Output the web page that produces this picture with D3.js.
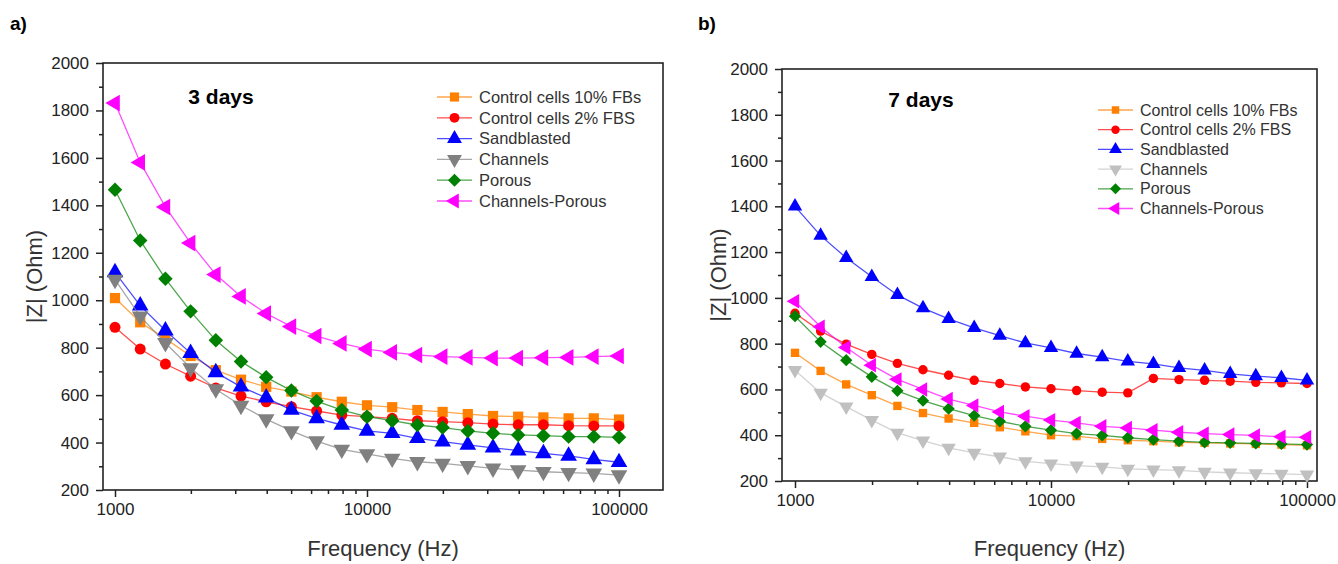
<!DOCTYPE html>
<html>
<head>
<meta charset="utf-8">
<script src="https://cdn.jsdelivr.net/npm/d3@7"></script>
<style>
  html, body { margin: 0; padding: 0; background: #fff; }
  svg { display: block; font-family: "Liberation Sans", Arial, sans-serif; }
</style>
</head>
<body>
<div id="chart"></div>
<script>
// sweep frequencies (Hz), 10 points per decade
const freqs = [1000, 1259, 1585, 1995, 2512, 3162, 3981, 5012, 6310, 7943, 10000,
  12589, 15849, 19953, 25119, 31623, 39811, 50119, 63096, 79433, 100000];

const seriesNames = ["Control cells 10% FBs", "Control cells 2% FBS", "Sandblasted",
  "Channels", "Porous", "Channels-Porous"];

// |Z| (Ohm) after 3 days
const day3Control10 = [1009, 907, 838, 765, 705, 665, 635, 615, 591, 572, 557, 549, 537, 529, 520, 512, 509, 506, 502, 502, 497];
const day3Control2 = [886, 794, 731, 680, 630, 596, 572, 551, 533, 516, 509, 502, 492, 488, 484, 478, 475, 475, 471, 470, 470];
const day3Sandblasted = [1117, 977, 872, 777, 696, 635, 589, 537, 502, 474, 449, 439, 418, 404, 390, 378, 366, 354, 344, 329, 317];
const day3Channels = [1087, 932, 820, 714, 625, 556, 499, 449, 406, 371, 352, 333, 319, 312, 302, 291, 284, 277, 273, 270, 263];
const day3Porous = [1466, 1252, 1091, 953, 831, 742, 675, 619, 575, 537, 509, 492, 474, 463, 449, 439, 432, 429, 425, 425, 422];
const day3ChannelsPorous = [1831, 1581, 1393, 1241, 1108, 1016, 944, 889, 849, 818, 794, 780, 769, 762, 759, 756, 756, 758, 759, 762, 765];

// |Z| (Ohm) after 7 days
const day7Control10 = [760, 681, 622, 575, 528, 497, 473, 454, 435, 417, 400, 396, 384, 378, 374, 369, 367, 364, 362, 359, 356];
const day7Control2 = [933, 855, 798, 753, 714, 686, 662, 640, 626, 611, 603, 595, 588, 585, 648, 643, 640, 636, 631, 629, 626];
const day7Sandblasted = [1400, 1272, 1175, 1092, 1013, 955, 908, 869, 835, 803, 782, 757, 741, 723, 712, 694, 683, 668, 658, 651, 640];
const day7Channels = [684, 585, 525, 466, 410, 376, 345, 323, 306, 286, 276, 267, 262, 253, 250, 246, 240, 236, 233, 231, 228];
const day7Porous = [920, 808, 728, 655, 594, 551, 516, 486, 461, 439, 422, 407, 399, 389, 381, 374, 369, 367, 364, 362, 359];
const day7ChannelsPorous = [985, 874, 783, 706, 644, 600, 558, 530, 502, 483, 466, 454, 439, 432, 422, 413, 407, 403, 399, 393, 391];

const yTicks = [200, 400, 600, 800, 1000, 1200, 1400, 1600, 1800, 2000];
const xTicks = [1000, 10000, 100000];

const symbols = [
  {type: d3.symbolSquare, rotate: 0},
  {type: d3.symbolCircle, rotate: 0},
  {type: d3.symbolTriangle, rotate: 0},
  {type: d3.symbolTriangle, rotate: 180},
  {type: d3.symbolSquare, rotate: 45},
  {type: d3.symbolTriangle, rotate: -90}
];

const svg = d3.select("#chart").append("svg")
    .attr("width", 1338)
    .attr("height", 564);

function drawPanel(p) {
  const x = d3.scaleLog().domain([1000, 100000]).range(p.xRange);
  const y = d3.scaleLinear().domain([200, 2000]).range([p.frame.y1, p.frame.y0]);
  const g = svg.append("g");

  // minor ticks
  const minorY = d3.range(300, 2000, 200);
  const minorX = d3.range(2000, 10000, 1000).concat(d3.range(20000, 100000, 10000));

  g.append("g")
      .attr("transform", `translate(${p.frame.x0},0)`)
      .call(d3.axisLeft(y).tickValues(minorY).tickSize(4).tickFormat(""))
      .call(a => a.select(".domain").remove());
  g.append("g")
      .attr("transform", `translate(0,${p.frame.y1})`)
      .call(d3.axisBottom(x).tickValues(minorX).tickSize(4).tickFormat(""))
      .call(a => a.select(".domain").remove());

  const yAxis = g.append("g")
      .attr("transform", `translate(${p.frame.x0},0)`)
      .call(d3.axisLeft(y).tickValues(yTicks).tickSize(7).tickPadding(7).tickFormat(d3.format("d")));
  const xAxis = g.append("g")
      .attr("transform", `translate(0,${p.frame.y1})`)
      .call(d3.axisBottom(x).tickValues(xTicks).tickSize(7).tickPadding(6).tickFormat(d3.format("d")));
  [yAxis, xAxis].forEach(a => {
    a.select(".domain").remove();
    a.attr("font-family", null).attr("font-size", null);
    a.selectAll("text").attr("font-size", 17).attr("fill", "#222");
  });
  g.selectAll(".tick line").attr("stroke", "#222").attr("stroke-width", 1.5);

  // frame
  g.append("rect")
      .attr("x", p.frame.x0).attr("y", p.frame.y0)
      .attr("width", p.frame.x1 - p.frame.x0)
      .attr("height", p.frame.y1 - p.frame.y0)
      .attr("fill", "none").attr("stroke", "#222").attr("stroke-width", 1.6);

  const line = d3.line().x((d, i) => x(freqs[i])).y(d => y(d));

  p.series.forEach((vals, k) => {
    const color = p.colors[k];
    g.append("path")
        .datum(vals)
        .attr("fill", "none")
        .attr("stroke", color)
        .attr("stroke-opacity", 0.7)
        .attr("stroke-width", 1.3)
        .attr("d", line);
    const sym = d3.symbol().type(symbols[k].type).size(p.sizes[k]);
    g.append("g").selectAll("path")
      .data(vals)
      .join("path")
        .attr("transform", (d, i) => `translate(${x(freqs[i])},${y(d)}) rotate(${symbols[k].rotate})`)
        .attr("d", sym)
        .attr("fill", color);
  });

  // legend
  const leg = g.append("g").attr("transform", `translate(${p.legend.x},${p.legend.y})`);
  seriesNames.forEach((name, k) => {
    const row = leg.append("g").attr("transform", `translate(0,${k * p.legend.step})`);
    row.append("line")
        .attr("x1", 0).attr("x2", 35)
        .attr("stroke", p.colors[k]).attr("stroke-opacity", 0.7).attr("stroke-width", 1.3);
    row.append("path")
        .attr("transform", `translate(17.5,0) rotate(${symbols[k].rotate})`)
        .attr("d", d3.symbol().type(symbols[k].type).size(p.sizes[k] * 0.8))
        .attr("fill", p.colors[k]);
    row.append("text")
        .attr("x", 42).attr("dy", "0.35em")
        .attr("font-size", p.legend.fontSize)
        .attr("fill", "#333")
        .text(name);
  });

  // annotations
  g.append("text")
      .attr("x", p.title.x).attr("y", p.title.y)
      .attr("text-anchor", "middle")
      .attr("font-size", 21).attr("font-weight", "bold")
      .text(p.title.text);

  g.append("text")
      .attr("x", p.panelLabel.x).attr("y", 30)
      .attr("font-size", 19).attr("font-weight", "bold")
      .text(p.panelLabel.text);

  g.append("text")
      .attr("x", (p.frame.x0 + p.frame.x1) / 2).attr("y", 556)
      .attr("text-anchor", "middle")
      .attr("font-size", 22).attr("fill", "#333")
      .text("Frequency (Hz)");

  g.append("text")
      .attr("transform", `translate(${p.yTitleX},${(p.frame.y0 + p.frame.y1) / 2}) rotate(-90)`)
      .attr("text-anchor", "middle")
      .attr("font-size", 22).attr("fill", "#333")
      .text("|Z| (Ohm)");
}

drawPanel({
  frame: {x0: 103, x1: 663, y0: 63, y1: 490},
  xRange: [115, 619],
  series: [day3Control10, day3Control2, day3Sandblasted, day3Channels, day3Porous, day3ChannelsPorous],
  colors: ["#ff8000", "#ff0000", "#0000ff", "#808080", "#008000", "#ff00ff"],
  sizes: [105, 95, 120, 120, 105, 120],
  legend: {x: 437, y: 97, step: 20.8, fontSize: 16.5},
  title: {x: 221, y: 104, text: "3 days"},
  panelLabel: {x: 10, text: "a)"},
  yTitleX: 42
});

drawPanel({
  frame: {x0: 782, x1: 1317, y0: 69, y1: 481},
  xRange: [795, 1307],
  series: [day7Control10, day7Control2, day7Sandblasted, day7Channels, day7Porous, day7ChannelsPorous],
  colors: ["#ff8000", "#ff0000", "#0000ff", "#c0c0c0", "#008000", "#ff00ff"],
  sizes: [70, 70, 90, 90, 75, 90],
  legend: {x: 1098, y: 110, step: 19.7, fontSize: 16},
  title: {x: 921, y: 107, text: "7 days"},
  panelLabel: {x: 698, text: "b)"},
  yTitleX: 726
});
</script>
</body>
</html>
